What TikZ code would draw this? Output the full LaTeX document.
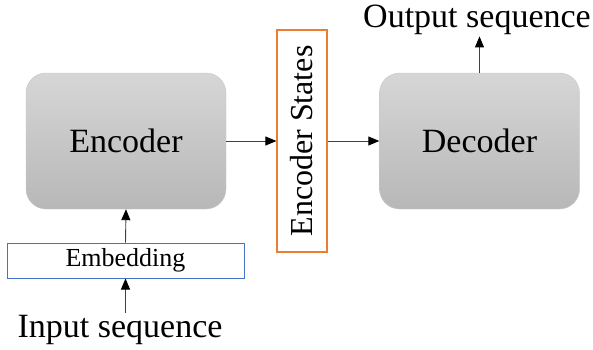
\documentclass[tikz,border=0pt]{standalone}
\usepackage{fontspec}
\setmainfont{Liberation Serif}
\usepackage{tikz}
\usetikzlibrary{arrows.meta, positioning, shapes}
\definecolor{embblue}{RGB}{68,114,196}
\definecolor{stateorange}{RGB}{237,125,49}

\begin{document}
\begin{tikzpicture}[x=1pt, y=1pt,
        block/.style={rectangle, rounded corners=20pt, draw=black!22, top color=black!16, bottom color=black!28, minimum width=200pt, minimum height=136pt, align=center, font=\fontsize{34}{40}\selectfont},
        statebox/.style={rectangle, draw=stateorange, line width=1.2pt, fill=white, minimum width=222pt, minimum height=50pt, rotate=90, font=\fontsize{32}{38}\selectfont},
        embbox/.style={rectangle, draw=embblue, line width=1pt, fill=white, minimum width=237pt, minimum height=35pt, font=\fontsize{26}{30}\selectfont},
        seqtext/.style={font=\fontsize{34}{40}\selectfont, inner sep=2pt},
        flow/.style={-{Triangle[length=11pt, width=9pt, color=black]}, draw=black!75, line width=0.9pt}
    ]
        \useasboundingbox (0,0) rectangle (593,349);

        % Blocks
        \node[block] (enc) at (126,208) {Encoder};
        \node[block] (dec) at (479.5,208) {Decoder};
        \node[statebox] (states) at (302,208) {Encoder States};
        \node[embbox] (emb) at (125.5,88.5) {Embedding};

        % Sequences
        \node[seqtext, anchor=base] (inseq) at (120,12) {Input sequence};
        \node[seqtext, anchor=base] (outseq) at (477,322) {Output sequence};

        % Connections
        \draw[flow] (emb.south |- inseq.north) -- (emb.south);
        \draw[flow] (emb.north) -- (enc.south);
        \draw[flow] (enc.east) -- (states.north);
        \draw[flow] (states.south) -- (dec.west);
        \draw[flow] (dec.north) -- (dec.north |- outseq.south);
    \end{tikzpicture}
\end{document}
